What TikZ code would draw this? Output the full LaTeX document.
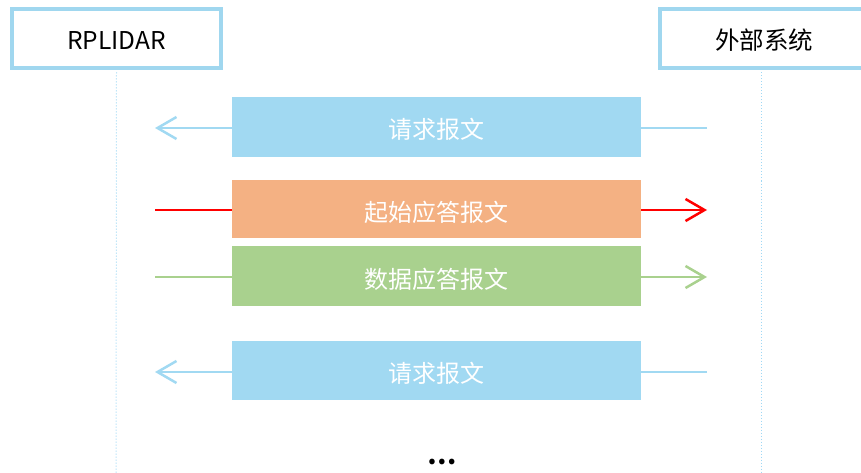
\documentclass[tikz,border=0pt]{standalone}
\usepackage{fontspec}
\setmainfont{Noto Sans CJK SC}
\usetikzlibrary{arrows.meta}
\definecolor{msgblue}{HTML}{A1D9F2}
\definecolor{msgorange}{HTML}{F4B183}
\definecolor{msggreen}{HTML}{A9D18E}
\definecolor{hdrblue}{HTML}{A0D7EF}
\definecolor{lifeblue}{HTML}{9FD8F5}
\tikzset{
  header/.style={draw=hdrblue,line width=4pt,fill=white,minimum width=209pt,minimum height=59pt,inner sep=0pt,text height=21pt,text depth=0pt,font=\fontsize{24.5pt}{28pt}\selectfont},
  message/.style={minimum width=409pt,inner sep=0pt,text=white,text height=24pt,text depth=0pt,font=\fontsize{24pt}{28pt}\selectfont},
  lifeline/.style={lifeblue,dotted,line width=1pt},
  msgline/.style={line width=2.5pt},
  tip/.style={-{Straight Barb[length=19pt,width=22pt,line width=2.5pt]}}
}
\begin{document}
\begin{tikzpicture}[x=1pt,y=-1pt]
			\useasboundingbox (0,0) rectangle (861,473);
			\node[header] (rplidar) at (116.5,39) {RPLIDAR};
			\node[header] (host) at (764,39) {外部系统};
			\coordinate (rpend) at (116,473);
			\coordinate (hostend) at (761,473);
			\draw[lifeline] (rplidar.south) ++(0,2) -- (rpend);
			\draw[lifeline] (hostend |- host.south) ++(0,2) -- (hostend);
			\node[message,fill=msgblue,minimum height=60pt] (req1) at (436.5,127) {请求报文};
			\node[message,fill=msgorange,minimum height=58pt] (start) at (436.5,209) {起始应答报文};
			\node[message,fill=msggreen,minimum height=60pt] (data) at (436.5,276) {数据应答报文};
			\node[message,fill=msgblue,minimum height=59pt] (req2) at (436.5,370.5) {请求报文};
			\coordinate (l1) at (155,128);
			\coordinate (r1) at (707,128);
			\coordinate (l2) at (155,210);
			\coordinate (r2) at (707,210);
			\coordinate (l3) at (155,277);
			\coordinate (r3) at (707,277);
			\coordinate (l4) at (155,372);
			\coordinate (r4) at (707,372);
			\draw[msgline,msgblue] (r1) -- (req1.east |- r1);
			\draw[msgline,msgblue,tip] (req1.west |- l1) -- (l1);
			\draw[msgline,red] (l2) -- (start.west |- l2);
			\draw[msgline,red,tip] (start.east |- r2) -- (r2);
			\draw[msgline,msggreen] (l3) -- (data.west |- l3);
			\draw[msgline,msggreen,tip] (data.east |- r3) -- (r3);
			\draw[msgline,msgblue] (r4) -- (req2.east |- r4);
			\draw[msgline,msgblue,tip] (req2.west |- l4) -- (l4);
			\node[font=\fontsize{26pt}{30pt}\selectfont\bfseries] (more) at (442,462) {…};
		\end{tikzpicture}
\end{document}
